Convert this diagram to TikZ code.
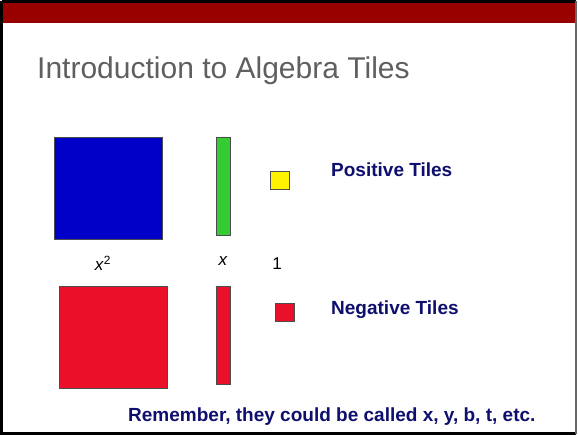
\documentclass[tikz,border=0pt]{standalone}
\usepackage{fontspec}
\setmainfont{Liberation Sans}
\usepackage{tikz}
\usetikzlibrary{positioning}
\definecolor{barred}{HTML}{990000}
\definecolor{titlegray}{HTML}{5F5F5F}
\definecolor{navy}{HTML}{0F0F6E}
\definecolor{tileblue}{HTML}{0000C8}
\definecolor{tilegreen}{HTML}{33CC33}
\definecolor{tilered}{HTML}{EB1029}
\tikzset{
  tile/.style={draw=black!70,line width=0.9pt,inner sep=0pt,anchor=north west},
  sq/.style={tile,minimum width=108pt,minimum height=102pt},
  bar/.style={tile,minimum width=14pt,minimum height=98pt},
  unit/.style={tile,minimum width=19pt,minimum height=18pt},
  lbl/.style={inner sep=0pt,font=\fontsize{17}{20}\selectfont},
  head/.style={inner sep=0pt,anchor=base west,text=navy,font=\bfseries\fontsize{19}{23}\selectfont}
}
\begin{document}
\begin{tikzpicture}[x=1pt,y=-1pt]
  \useasboundingbox (0,0) rectangle (578,435);
  \fill[white] (0,0) rectangle (578,435);
  % slide frame and top bar
  \fill[barred] (3,3) rectangle (576,23.5);
  \draw[black,line width=3pt] (1.5,1.5) -- (1.5,433.5) -- (576,433.5);
  \draw[black,line width=3pt] (1.5,1.5) -- (576,1.5);
  \draw[black!60,line width=2pt] (576,1.5) -- (576,433.5);
  \node[inner sep=0pt,anchor=base west,text=titlegray,font=\fontsize{30}{36}\selectfont]
    (title) at (37,79) {Introduction to Algebra Tiles};
  % positive tiles
  \node[sq,fill=tileblue] (xsq) at (54,137) {};
  \node[bar,fill=tilegreen] (xbar) at (216,137) {};
  \node[unit,fill=yellow] (one) at (269.5,171) {};
  \node[head] (pos) at (331,177) {Positive Tiles};
  % names
  \node[lbl] (lxsq) at (103,263) {\textit{x}\textsuperscript{2}};
  \node[lbl] (lx) at (223,261) {\textit{x}};
  \node[lbl] (lone) at (277,264) {1};
  % negative tiles
  \node[sq,fill=tilered] (nxsq) at (58.5,286) {};
  \node[bar,fill=tilered] (nxbar) at (216,286) {};
  \node[unit,fill=tilered] (none) at (274.5,303) {};
  \node[head] (neg) at (331,315) {Negative Tiles};
  \node[head] (rem) at (128,421) {Remember, they could be called x, y, b, t, etc.};
\end{tikzpicture}
\end{document}
